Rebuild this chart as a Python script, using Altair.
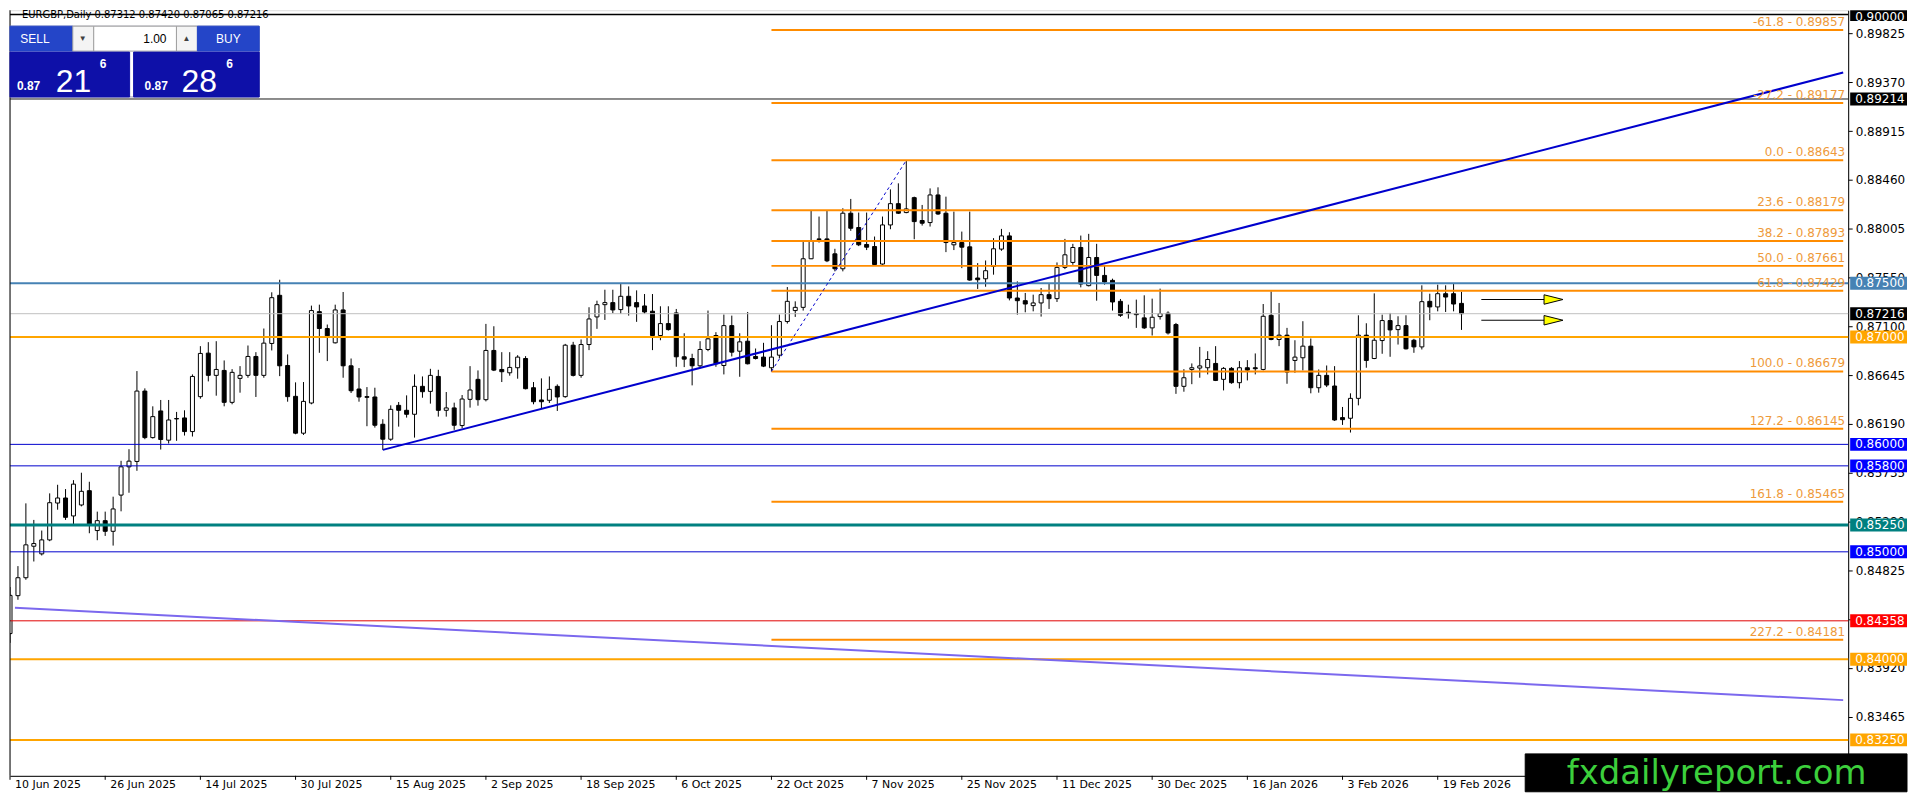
import altair as alt
import pandas as pd

# ---------------- data (EURGBP daily candles) ----------------
opens = [0.84239, 0.84592, 0.84759, 0.85052, 0.84981, 0.85111, 0.85454, 0.85501, 0.85334, 0.85436,
         0.85569, 0.85198, 0.85290, 0.85191, 0.85528, 0.85791, 0.85841, 0.86496, 0.86063, 0.86311,
         0.86039, 0.86240, 0.86246, 0.86119, 0.86444, 0.86849, 0.86642, 0.86688, 0.86391, 0.86614,
         0.86642, 0.86818, 0.86642, 0.86939, 0.87387, 0.86734, 0.86447, 0.86104, 0.86385, 0.87235,
         0.87078, 0.86945, 0.87251, 0.86731, 0.86515, 0.86444, 0.86441, 0.86187, 0.86048, 0.86363,
         0.86317, 0.86280, 0.86540, 0.86493, 0.86632, 0.86317, 0.86339, 0.86175, 0.86419, 0.86605,
         0.86416, 0.86874, 0.86697, 0.86666, 0.86713, 0.86799, 0.86527, 0.86413, 0.86410, 0.86540,
         0.86444, 0.86923, 0.86642, 0.86929, 0.87186, 0.87300, 0.87319, 0.87254, 0.87378, 0.87319,
         0.87288, 0.87239, 0.87013, 0.87124, 0.87223, 0.86815, 0.86799, 0.86731, 0.86883, 0.87013,
         0.86734, 0.87105, 0.86867, 0.86960, 0.86818, 0.86812, 0.86713, 0.86830, 0.87143, 0.87245,
         0.87275, 0.87727, 0.87912, 0.87912, 0.87773, 0.87634, 0.88151, 0.88018, 0.87860, 0.87841,
         0.87678, 0.88042, 0.88240, 0.88157, 0.88296, 0.88083, 0.88064, 0.88321, 0.88151, 0.87857,
         0.87878, 0.87838, 0.87548, 0.87541, 0.87656, 0.87817, 0.87940, 0.87362, 0.87337, 0.87291,
         0.87316, 0.87393, 0.87356, 0.87647, 0.87693, 0.87832, 0.87477, 0.87739, 0.87572, 0.87526,
         0.87331, 0.87229, 0.87217, 0.87177, 0.87084, 0.87189, 0.87220, 0.87115, 0.86540, 0.86697,
         0.86710, 0.86713, 0.86753, 0.86605, 0.86707, 0.86574, 0.86713, 0.86713, 0.86697, 0.87201,
         0.86976, 0.87016, 0.86781, 0.86806, 0.86914, 0.86527, 0.86642, 0.86543, 0.86249, 0.86243,
         0.86428, 0.87016, 0.86799, 0.86966, 0.87152, 0.87068, 0.87105, 0.86969, 0.86907, 0.87331,
         0.87279, 0.87402, 0.87402, 0.87312]
highs = [0.84672, 0.84867, 0.85451, 0.85297, 0.85198, 0.85544, 0.85624, 0.85584, 0.85667, 0.85736,
         0.85652, 0.85374, 0.85374, 0.85513, 0.85847, 0.85955, 0.86682, 0.86521, 0.86354, 0.86413,
         0.86413, 0.86302, 0.86317, 0.86651, 0.86914, 0.86951, 0.86960, 0.86781, 0.86700, 0.86728,
         0.86920, 0.86858, 0.87078, 0.87415, 0.87532, 0.86837, 0.86577, 0.86580, 0.87291, 0.87300,
         0.87115, 0.87300, 0.87418, 0.86799, 0.86710, 0.86533, 0.86527, 0.86234, 0.86363, 0.86394,
         0.86456, 0.86651, 0.86632, 0.86703, 0.86694, 0.86487, 0.86388, 0.86459, 0.86728, 0.86688,
         0.87121, 0.87099, 0.86858, 0.86858, 0.86830, 0.86821, 0.86580, 0.86614, 0.86632, 0.86558,
         0.86935, 0.86954, 0.86976, 0.87276, 0.87337, 0.87439, 0.87439, 0.87492, 0.87470, 0.87433,
         0.87399, 0.87399, 0.87285, 0.87285, 0.87260, 0.87034, 0.86843, 0.86960, 0.87245, 0.87044,
         0.87208, 0.87198, 0.87034, 0.87232, 0.86892, 0.86945, 0.87109, 0.87208, 0.87464, 0.87331,
         0.87888, 0.88172, 0.88120, 0.88172, 0.87820, 0.88197, 0.88284, 0.88157, 0.88157, 0.87934,
         0.88120, 0.88373, 0.88429, 0.88643, 0.88305, 0.88228, 0.88382, 0.88392, 0.88305, 0.88166,
         0.87980, 0.88166, 0.87687, 0.87711, 0.87919, 0.88005, 0.87974, 0.87517, 0.87409, 0.87393,
         0.87455, 0.87501, 0.87693, 0.87912, 0.87866, 0.87943, 0.87959, 0.87866, 0.87665, 0.87542,
         0.87353, 0.87300, 0.87347, 0.87387, 0.87356, 0.87449, 0.87238, 0.87130, 0.86700, 0.86753,
         0.86907, 0.86867, 0.86914, 0.86719, 0.86719, 0.86775, 0.86784, 0.86846, 0.87306, 0.87424,
         0.87316, 0.87084, 0.86969, 0.87146, 0.86985, 0.86697, 0.86734, 0.86728, 0.86348, 0.86475,
         0.87201, 0.87127, 0.87405, 0.87207, 0.87223, 0.87192, 0.87201, 0.86982, 0.87480, 0.87402,
         0.87486, 0.87480, 0.87492, 0.87420]
lows = [0.84153, 0.84554, 0.84740, 0.84910, 0.84966, 0.85099, 0.85392, 0.85297, 0.85253, 0.85423,
        0.85173, 0.85108, 0.85148, 0.85058, 0.85377, 0.85550, 0.85754, 0.86048, 0.86054, 0.85952,
        0.86008, 0.86033, 0.86082, 0.86073, 0.86425, 0.86586, 0.86453, 0.86354, 0.86373, 0.86481,
        0.86620, 0.86441, 0.86620, 0.86874, 0.86635, 0.86397, 0.86094, 0.86088, 0.86373, 0.86852,
        0.86775, 0.86939, 0.86620, 0.86478, 0.86397, 0.86169, 0.86156, 0.85949, 0.86033, 0.86165,
        0.86249, 0.86063, 0.86434, 0.86379, 0.86258, 0.86258, 0.86135, 0.86150, 0.86342, 0.86360,
        0.86400, 0.86682, 0.86580, 0.86639, 0.86611, 0.86512, 0.86373, 0.86335, 0.86385, 0.86311,
        0.86434, 0.86632, 0.86620, 0.86877, 0.87075, 0.87158, 0.87220, 0.87214, 0.87198, 0.87140,
        0.87214, 0.86877, 0.86969, 0.87059, 0.86722, 0.86719, 0.86549, 0.86707, 0.86867, 0.86722,
        0.86651, 0.86818, 0.86629, 0.86744, 0.86790, 0.86719, 0.86679, 0.86800, 0.87124, 0.87186,
        0.87245, 0.87724, 0.87878, 0.87696, 0.87610, 0.87610, 0.87987, 0.87845, 0.87808, 0.87671,
        0.87671, 0.88002, 0.88144, 0.88151, 0.87909, 0.88036, 0.88027, 0.88135, 0.87789, 0.87808,
        0.87640, 0.87523, 0.87446, 0.87467, 0.87579, 0.87801, 0.87340, 0.87207, 0.87229, 0.87238,
        0.87189, 0.87260, 0.87325, 0.87631, 0.87671, 0.87461, 0.87470, 0.87337, 0.87486, 0.87245,
        0.87186, 0.87170, 0.87084, 0.87074, 0.87013, 0.87161, 0.87022, 0.86470, 0.86490, 0.86560,
        0.86620, 0.86651, 0.86589, 0.86502, 0.86564, 0.86521, 0.86595, 0.86651, 0.86688, 0.86969,
        0.86914, 0.86564, 0.86666, 0.86688, 0.86475, 0.86481, 0.86533, 0.86218, 0.86181, 0.86110,
        0.86363, 0.86713, 0.86793, 0.86843, 0.86815, 0.86929, 0.86883, 0.86852, 0.86883, 0.87155,
        0.87238, 0.87232, 0.87238, 0.87065]
closes = [0.84595, 0.84759, 0.85065, 0.85077, 0.85111, 0.85457, 0.85501, 0.85321, 0.85630, 0.85563,
          0.85253, 0.85290, 0.85191, 0.85399, 0.85791, 0.85844, 0.86496, 0.86063, 0.86258, 0.86045,
          0.86227, 0.86237, 0.86119, 0.86632, 0.86846, 0.86642, 0.86697, 0.86391, 0.86670, 0.86642,
          0.86818, 0.86642, 0.86942, 0.87365, 0.86731, 0.86444, 0.86104, 0.86400, 0.87245, 0.87078,
          0.87010, 0.87251, 0.86731, 0.86499, 0.86441, 0.86438, 0.86178, 0.86048, 0.86326, 0.86317,
          0.86280, 0.86540, 0.86490, 0.86642, 0.86317, 0.86339, 0.86178, 0.86422, 0.86506, 0.86416,
          0.86874, 0.86691, 0.86676, 0.86716, 0.86812, 0.86518, 0.86397, 0.86397, 0.86512, 0.86441,
          0.86923, 0.86642, 0.86929, 0.87167, 0.87300, 0.87319, 0.87251, 0.87378, 0.87288, 0.87279,
          0.87232, 0.87013, 0.87124, 0.87068, 0.86815, 0.86793, 0.86731, 0.86883, 0.86982, 0.86750,
          0.87105, 0.86858, 0.86954, 0.86750, 0.86799, 0.86728, 0.86812, 0.87143, 0.87331, 0.87275,
          0.87727, 0.87897, 0.87906, 0.87708, 0.87634, 0.88151, 0.88011, 0.87857, 0.87835, 0.87674,
          0.88042, 0.88240, 0.88151, 0.88191, 0.88073, 0.88058, 0.88321, 0.88144, 0.87878, 0.87878,
          0.87835, 0.87529, 0.87532, 0.87616, 0.87820, 0.87940, 0.87362, 0.87337, 0.87306, 0.87316,
          0.87393, 0.87356, 0.87647, 0.87764, 0.87832, 0.87492, 0.87739, 0.87572, 0.87511, 0.87325,
          0.87201, 0.87217, 0.87207, 0.87084, 0.87183, 0.87217, 0.87037, 0.86540, 0.86620, 0.86713,
          0.86730, 0.86790, 0.86595, 0.86707, 0.86574, 0.86713, 0.86691, 0.86704, 0.87192, 0.86976,
          0.87016, 0.86673, 0.86812, 0.86914, 0.86527, 0.86642, 0.86552, 0.86227, 0.86230, 0.86428,
          0.87016, 0.86781, 0.86969, 0.87152, 0.87065, 0.87105, 0.86889, 0.86907, 0.87328, 0.87279,
          0.87402, 0.87371, 0.87306, 0.87216]

date_labels = ["10 Jun 2025", "26 Jun 2025", "14 Jul 2025", "30 Jul 2025", "15 Aug 2025",
               "2 Sep 2025", "18 Sep 2025", "6 Oct 2025", "22 Oct 2025", "7 Nov 2025",
               "25 Nov 2025", "11 Dec 2025", "30 Dec 2025", "16 Jan 2026", "3 Feb 2026",
               "19 Feb 2026"]
date_index = [0, 12, 24, 36, 48, 60, 72, 84, 96, 108, 120, 132, 144, 156, 168, 180]

axis_ticks = [0.89825, 0.89370, 0.88915, 0.88460, 0.88005, 0.87550, 0.87100, 0.86645,
              0.86190, 0.85735, 0.85280, 0.84825, 0.84370, 0.83920, 0.83465]

black_levels = [0.90000, 0.89214]
steel_levels = [0.87500]
bid_levels = [0.87216]
orange_levels = [0.87000, 0.84000, 0.83250]
blue_levels = [0.86000, 0.85800, 0.85000]
teal_levels = [0.85250]
red_levels = [0.84358]

fib_names = ["-61.8", "-27.2", "0.0", "23.6", "38.2", "50.0", "61.8", "100.0", "127.2", "161.8", "227.2"]
fib_prices = [0.89857, 0.89177, 0.88643, 0.88179, 0.87893, 0.87661, 0.87429, 0.86679, 0.86145, 0.85465, 0.84181]
fib_start_bar = 96

up_trend_bars = [47, 231.125]
up_trend_prices = [0.85949, 0.89460]
down_trend_bars = [0.625, 231.125]
down_trend_prices = [0.84480, 0.83620]
fib_swing_bars = [96, 113]
fib_swing_prices = [0.86679, 0.88643]

arrow_prices = [0.87348, 0.87155]
arrow_from_bar = 185.5
arrow_to_bar = 193.6
arrow_head_bar = 194.6

header = "EURGBP,Daily  0.87312 0.87420 0.87065 0.87216"

# ---------------- layout ----------------
W, H = 1844, 768
XDOM = [0.625, 231.125]
YDOM = [0.829156, 0.900399]
PX = (YDOM[1] - YDOM[0]) / H
FONT = "DejaVu Sans"

xs = alt.Scale(domain=XDOM, nice=False, zero=False)
ys = alt.Scale(domain=YDOM, nice=False, zero=False)

XAX = alt.Axis(labels=False, ticks=False, grid=False, title=None, domainColor="black", domainWidth=1)
YAX = alt.Axis(orient="right", values=axis_ticks, format=".5f", labelFont=FONT, labelFontSize=12,
               labelColor="black", tickColor="black", tickSize=4, domainColor="black", domainWidth=1,
               grid=False, title=None, labelPadding=3, labelOverlap=False)


def Xf(f):
    return alt.X(f"{f}:Q", scale=xs, axis=XAX)


def Yf(f):
    return alt.Y(f"{f}:Q", scale=ys, axis=YAX)


candles = pd.DataFrame({"k": list(range(len(opens))), "o": opens, "h": highs, "l": lows, "c": closes})

wick = alt.Chart(candles).mark_rule(color="black", strokeWidth=1, clip=True).encode(
    x=Xf("k"), y=Yf("l"), y2="h:Q")
body = alt.Chart(candles).mark_bar(size=4, stroke="black", strokeWidth=1, clip=True).encode(
    x=Xf("k"), y=Yf("o"), y2="c:Q",
    fill=alt.condition("datum.c >= datum.o", alt.value("white"), alt.value("black")),
)


def hlines(levels, color, width):
    return alt.Chart(pd.DataFrame({"p": levels})).mark_rule(color=color, strokeWidth=width).encode(y=Yf("p"))


def seg(bars, prices, color, width, dash=None):
    d = pd.DataFrame({"k0": [bars[0]], "k1": [bars[1]], "p0": [prices[0]], "p1": [prices[1]]})
    kw = dict(color=color, strokeWidth=width, clip=True)
    if dash:
        kw["strokeDash"] = dash
    return alt.Chart(d).mark_rule(**kw).encode(x=Xf("k0"), x2="k1:Q", y=Yf("p0"), y2="p1:Q")


fib = pd.DataFrame({"name": fib_names, "p": fib_prices})
fib["k0"] = fib_start_bar
fib["k1"] = XDOM[1]
fib["label"] = fib["name"] + " - " + fib["p"].map("{:.5f}".format)
fib_lines = alt.Chart(fib).mark_rule(color="#FF8C00", strokeWidth=2, clip=True).encode(
    x=Xf("k0"), x2="k1:Q", y=Yf("p"))
fib_text = alt.Chart(fib).mark_text(align="right", baseline="bottom", dy=-1, fontSize=12,
                                    font=FONT, color="#EE9A3A").encode(
    x=alt.value(W - 3), y=Yf("p"), text="label:N")

arrows = pd.DataFrame({"p": arrow_prices})
arrows["k0"] = arrow_from_bar
arrows["k1"] = arrow_to_bar
arrows["kh"] = arrow_head_bar
arrow_lines = alt.Chart(arrows).mark_rule(color="black", strokeWidth=1).encode(
    x=Xf("k0"), x2="k1:Q", y=Yf("p"))
arrow_heads = alt.Chart(arrows).mark_point(
    shape="M -1 -0.5 L 1 0 L -1 0.5 Z", size=361, filled=True, fill="#FFFF00",
    stroke="black", strokeWidth=1, opacity=1).encode(x=Xf("kh"), y=Yf("p"))


def level_box(levels, bg, fg="white"):
    d = pd.DataFrame({"p": levels})
    d["lo"] = (d["p"] - 6.5 * PX).clip(lower=YDOM[0])
    d["hi"] = (d["p"] + 6.5 * PX).clip(upper=YDOM[1])
    d["ty"] = d["p"].clip(upper=YDOM[1] - 6.5 * PX)
    d["txt"] = d["p"].map("{:.5f}".format)
    r = alt.Chart(d).mark_rect(color=bg).encode(
        x=alt.value(W + 2), x2=alt.value(W + 59), y=Yf("lo"), y2="hi:Q")
    t = alt.Chart(d).mark_text(align="left", baseline="middle", fontSize=12, font=FONT, color=fg).encode(
        x=alt.value(W + 7), y=Yf("ty"), text="txt:N")
    return [r, t]


dates = pd.DataFrame({"k": date_index, "label": date_labels})
date_text = alt.Chart(dates).mark_text(align="left", baseline="top", dx=5, fontSize=11,
                                       font=FONT, color="black").encode(
    x=Xf("k"), y=alt.value(H + 3), text="label:N")
date_ticks = alt.Chart(dates).mark_rule(color="black", strokeWidth=1).encode(
    x=Xf("k"), y=alt.value(H), y2=alt.value(H + 4))

one = pd.DataFrame({"a": [0]})


def box(x0, y0, x1, y1, fill, stroke=None):
    return alt.Chart(one).mark_rect(fill=fill, stroke=stroke if stroke else fill, strokeWidth=1).encode(
        x=alt.value(x0), x2=alt.value(x1), y=alt.value(y0), y2=alt.value(y1))


def label(x, y, text, size, color, align="center", weight="normal", baseline="middle", font="Liberation Sans"):
    return alt.Chart(one).mark_text(text=text, fontSize=size, color=color, align=align,
                                    fontWeight=weight, baseline=baseline, font=font).encode(
        x=alt.value(x), y=alt.value(y))


left_border = alt.Chart(one).mark_rule(color="black", strokeWidth=1).encode(
    x=alt.value(0), y=alt.value(0), y2=alt.value(H))

panel = [
    box(0, 16, 250, 87, "#FFFFFF", "#9A9AB0"),
    box(0, 16, 63, 41, "#2445C8"),
    box(63, 16, 84, 41, "#F4F4F4", "#A0A0A0"),
    box(84, 16, 167, 41, "#FFFFFF", "#A0A0A0"),
    box(167, 16, 188, 41, "#F4F4F4", "#A0A0A0"),
    box(188, 16, 250, 41, "#2445C8"),
    box(0, 42, 120, 87, "#0E10A8"),
    box(124, 42, 250, 87, "#0E10A8"),
    label(25, 29, "SELL", 12, "white"),
    label(219, 29, "BUY", 12, "white"),
    label(73, 29, "▼", 8, "#404040"),
    label(177, 29, "▲", 8, "#404040"),
    label(157, 29, "1.00", 12, "black", align="right"),
    label(7, 80, "0.87", 12, "white", align="left", weight="bold", baseline="alphabetic"),
    label(46, 82, "21", 32, "white", align="left", baseline="alphabetic"),
    label(90, 58, "6", 12, "white", align="left", weight="bold", baseline="alphabetic"),
    label(135, 80, "0.87", 12, "white", align="left", weight="bold", baseline="alphabetic"),
    label(172, 82, "28", 32, "white", align="left", baseline="alphabetic"),
    label(217, 58, "6", 12, "white", align="left", weight="bold", baseline="alphabetic"),
]

header_text = label(12, 0, header, 10, "black", align="left", baseline="top", font=FONT)

watermark = [
    box(1520, 746, W + 59, 784, "black"),
    label(1712, 776, "fxdailyreport.com", 34, "#3CCF3C", baseline="alphabetic", font=FONT),
]

layers = [
    wick, body,
    hlines(black_levels[:1], "black", 1.5),
    hlines(black_levels[1:], "#1A1A1A", 1),
    hlines(bid_levels, "#C0C0C0", 1),
    hlines(steel_levels, "#4682B4", 2),
    hlines(orange_levels, "#FFA500", 2),
    hlines(blue_levels, "#0000CD", 1),
    hlines(teal_levels, "#008080", 3),
    hlines(red_levels, "#E00000", 1),
    fib_lines,
    seg(up_trend_bars, up_trend_prices, "#0000CD", 2),
    seg(down_trend_bars, down_trend_prices, "#7B68EE", 2),
    seg(fib_swing_bars, fib_swing_prices, "#0000CD", 1, [3, 3]),
    fib_text,
    arrow_lines, arrow_heads,
    left_border, date_ticks, date_text,
]
layers += level_box(black_levels, "black")
layers += level_box(bid_levels, "black")
layers += level_box(steel_levels, "#4682B4")
layers += level_box(orange_levels, "#FFA500")
layers += level_box(blue_levels, "#0000FF")
layers += level_box(teal_levels, "#008080")
layers += level_box(red_levels, "#FF0000")
layers += panel
layers += [header_text]
layers += watermark

chart = alt.layer(*layers).properties(width=W, height=H, padding=0).configure_view(
    stroke=None).configure(font=FONT, background="white")

chart.save("out.html", embed_options={"renderer": "svg", "actions": False})
